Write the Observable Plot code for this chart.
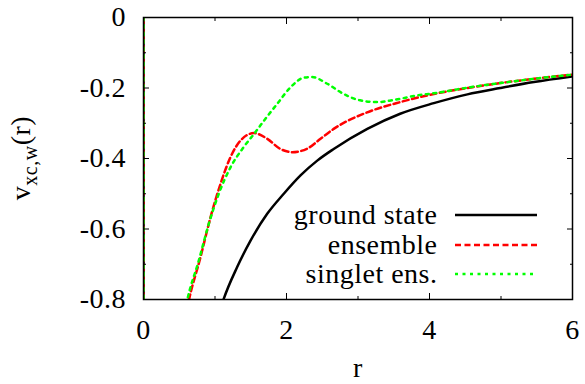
<!DOCTYPE html>
<html><head><meta charset="utf-8">
<script src="https://cdn.jsdelivr.net/npm/d3@7"></script>
<script src="https://cdn.jsdelivr.net/npm/@observablehq/plot@0.6"></script>
<style>
html,body{margin:0;padding:0;background:#fff}
svg, svg text { font-family: 'Liberation Serif', 'Times New Roman', serif !important; }
svg text { letter-spacing: 0.5px; }
</style>
</head><body><div id="chart"></div>
<script>
const seriesNames = ["ground state", "ensemble", "singlet ens."];
const seriesColors = ["#000000", "#ff0000", "#00ff00"];

const rGround = [0, 0.003, 1.0, 1.114, 1.31, 1.497, 1.73, 1.962, 2.196, 2.43, 2.66, 3.13, 3.59, 4.06, 4.53, 4.99, 5.46, 6.0];
const vGround = [0, -2.5, -0.88, -0.803, -0.708, -0.633, -0.557, -0.500, -0.448, -0.406, -0.373, -0.316, -0.273, -0.243, -0.218, -0.200, -0.183, -0.167];

const rEnsemble = [0, 0.003, 0.5, 0.634, 0.797, 0.937, 1.077, 1.217, 1.357, 1.543, 1.73, 1.916, 2.08, 2.29, 2.476, 2.66, 3.13, 3.59, 4.06, 4.53, 4.99, 5.46, 6.0];
const vEnsemble = [0, -2.5, -0.95, -0.803, -0.68, -0.567, -0.472, -0.396, -0.349, -0.328, -0.344, -0.373, -0.382, -0.372, -0.344, -0.316, -0.269, -0.240, -0.217, -0.200, -0.186, -0.174, -0.162];

const rSinglet = [0, 0.003, 0.5, 0.61, 0.774, 0.914, 1.053, 1.217, 1.40, 1.566, 1.706, 1.87, 2.056, 2.24, 2.36, 2.57, 2.80, 3.03, 3.27, 3.50, 3.83, 4.06, 4.53, 4.99, 5.46, 6.0];
const vSinglet = [0, -2.5, -0.92, -0.803, -0.689, -0.585, -0.500, -0.425, -0.368, -0.325, -0.287, -0.245, -0.198, -0.171, -0.169, -0.188, -0.217, -0.235, -0.240, -0.234, -0.221, -0.215, -0.199, -0.186, -0.174, -0.162];

const xMajorTicks = [0, 2, 4, 6];
const xMinorTicks = [1, 3, 5];
const xTickLabels = ["0", "2", "4", "6"];
const yMajorTicks = [0, -0.2, -0.4, -0.6, -0.8];
const yMinorTicks = [-0.1, -0.3, -0.5, -0.7];
const yTickLabels = ["0", "-0.2", "-0.4", "-0.6", "-0.8"];

const xLabel = "r";
const yLabelMain = "v";
const yLabelSub = "xc,w";
const yLabelTail = "(r)";

const toRows = (rs, vs, name) => rs.map((r, i) => ({r, v: vs[i], series: name}));
const groundRows = toRows(rGround, vGround, seriesNames[0]);
const ensembleRows = toRows(rEnsemble, vEnsemble, seriesNames[1]);
const singletRows = toRows(rSinglet, vSinglet, seriesNames[2]);

const dashes = [null, "6,3.5", "3,4.5"];
const noText = () => "";
const FONT = "'Liberation Serif', 'Times New Roman', serif";
const FS = 28;

const chart = Plot.plot({
  width: 585, height: 384,
  marginLeft: 143, marginRight: 13, marginTop: 17, marginBottom: 85,
  style: {fontFamily: FONT, fontSize: FS + "px", background: "#fff", color: "#000"},
  x: {domain: [0, 6]},
  y: {domain: [-0.8, 0]},
  marks: [
    Plot.line(groundRows, {x: "r", y: "v", stroke: seriesColors[0], strokeWidth: 2.5, curve: "monotone-x", clip: true}),
    Plot.line(ensembleRows, {x: "r", y: "v", stroke: seriesColors[1], strokeWidth: 2.5, strokeDasharray: dashes[1], curve: "monotone-x", clip: true}),
    Plot.line(singletRows, {x: "r", y: "v", stroke: seriesColors[2], strokeWidth: 2.5, strokeDasharray: dashes[2], curve: "monotone-x", clip: true}),
    Plot.frame({stroke: "#000", strokeWidth: 1.5}),
    Plot.axisX(xMajorTicks, {anchor: "bottom", tickSize: -6, tickFormat: noText, label: null}),
    Plot.axisX(xMinorTicks, {anchor: "bottom", tickSize: -3, tickFormat: noText, label: null}),
    Plot.axisX(xMajorTicks, {anchor: "top", tickSize: -6, tickFormat: noText, label: null}),
    Plot.axisX(xMinorTicks, {anchor: "top", tickSize: -3, tickFormat: noText, label: null}),
    Plot.axisY(yMajorTicks, {anchor: "left", tickSize: -6, tickFormat: noText, label: null}),
    Plot.axisY(yMinorTicks, {anchor: "left", tickSize: -3, tickFormat: noText, label: null}),
    Plot.axisY(yMajorTicks, {anchor: "right", tickSize: -6, tickFormat: noText, label: null}),
    Plot.axisY(yMinorTicks, {anchor: "right", tickSize: -3, tickFormat: noText, label: null}),
    Plot.axisX(xMajorTicks, {anchor: "bottom", tickSize: 0, tickPadding: 20, fontSize: FS, tickFormat: d => xTickLabels[xMajorTicks.indexOf(d)], label: null}),
    Plot.axisY(yMajorTicks, {anchor: "left", tickSize: 0, tickPadding: 17.5, fontSize: FS, tickFormat: d => yTickLabels[yMajorTicks.indexOf(d)], label: null})
  ]
});

const svg = d3.select(chart);

// axis titles
svg.append("text").attr("x", 358).attr("y", 377).attr("text-anchor", "middle")
  .attr("font-family", FONT).attr("font-size", FS).attr("fill", "#000").text(xLabel);
const yl = svg.append("text").attr("transform", "translate(30,158) rotate(-90)")
  .attr("text-anchor", "middle").attr("font-family", FONT).attr("font-size", FS).attr("fill", "#000");
yl.append("tspan").text(yLabelMain);
yl.append("tspan").attr("font-size", 20).attr("dy", 7).text(yLabelSub);
yl.append("tspan").attr("dy", -7).text(yLabelTail);

// legend
const legendY = [215, 245, 274];
seriesNames.forEach((name, i) => {
  svg.append("text").attr("x", 437.5).attr("y", legendY[i]).attr("dy", "0.33em")
    .attr("text-anchor", "end").attr("font-family", FONT).attr("font-size", FS).attr("fill", "#000").text(name);
  const ln = svg.append("line").attr("x1", 455).attr("x2", 537).attr("y1", legendY[i]).attr("y2", legendY[i])
    .attr("stroke", seriesColors[i]).attr("stroke-width", 2.5);
  if (dashes[i]) ln.attr("stroke-dasharray", dashes[i]);
});

document.getElementById("chart").appendChild(chart);
</script>
</body></html>
